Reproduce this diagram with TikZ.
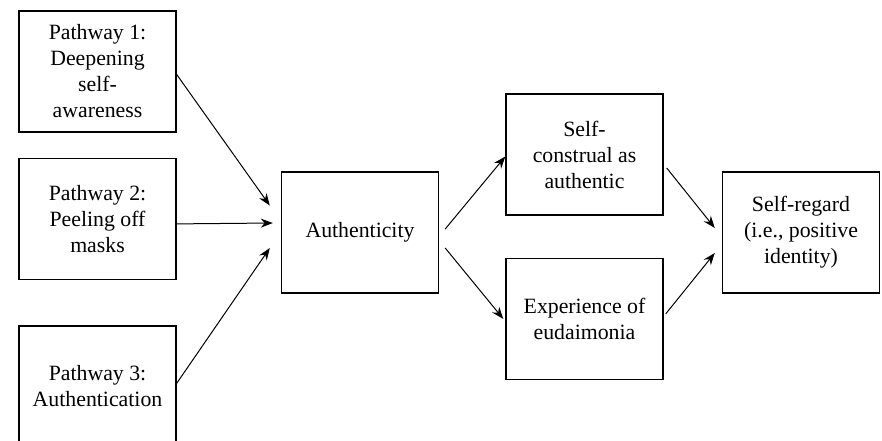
\documentclass[tikz,border=0pt]{standalone}
\usepackage{fontspec}
\setmainfont{Liberation Serif}
\usetikzlibrary{arrows.meta, positioning}

\begin{document}
\begin{tikzpicture}[
            x = 0.5pt, y = -0.5pt,
            > = {Stealth[length=6pt, width=4.5pt]},
            thin
        ]

        \tikzstyle{every node}=[
            font = \fontsize{10.9}{13}\selectfont,
            align = center
        ]
        \tikzstyle{box}=[
            draw = black,
            line width = 0.7pt,
            minimum width = 78.5pt,
            minimum height = 60.5pt,
            inner sep = 2pt
        ]
        \tikzstyle{link}=[->, line width = 0.5pt]

        \useasboundingbox (0,0) rectangle (882,440);

        \node[box] (p1) at (97.5,71.5) {Pathway 1:\\Deepening\\self-\\awareness};
        \node[box] (p2) [below=12.5pt of p1] {Pathway 2:\\Peeling off\\masks};
        \node[box] (p3) [below=22.5pt of p2] {Pathway 3:\\Authentication};
        \node[box] (auth) at (360,232.5) {Authenticity};
        \node[box] (self) at (584.5,154.5) {Self-\\construal as\\authentic};
        \node[box] (eud) [below=21pt of self] {Experience of\\eudaimonia};
        \node[box] (regard) at (801,232.5) {Self-regard\\(i.e., positive\\identity)};

        \draw[link] ([yshift=-1.5pt]p1.east) -- ([xshift=-5.5pt,yshift=13.5pt]auth.west);
        \draw[link] ([yshift=-2.5pt]p2.east) -- ([xshift=-4pt,yshift=4.75pt]auth.west);
        \draw[link] ([yshift=1.5pt]p3.east) -- ([xshift=-5.5pt,yshift=-7.75pt]auth.west);

        \draw[link] ([xshift=3pt,yshift=1.75pt]auth.east) -- ([yshift=-1pt]self.west);
        \draw[link] ([xshift=3pt,yshift=-7.75pt]auth.east) -- ([xshift=-1pt]eud.west);

        \draw[link] ([xshift=1.5pt,yshift=-6.75pt]self.east) -- ([xshift=-3.5pt,yshift=2.25pt]regard.west);
        \draw[link] ([xshift=1pt,yshift=2.5pt]eud.east) -- ([xshift=-3.5pt,yshift=-10.25pt]regard.west);

    \end{tikzpicture}
\end{document}
